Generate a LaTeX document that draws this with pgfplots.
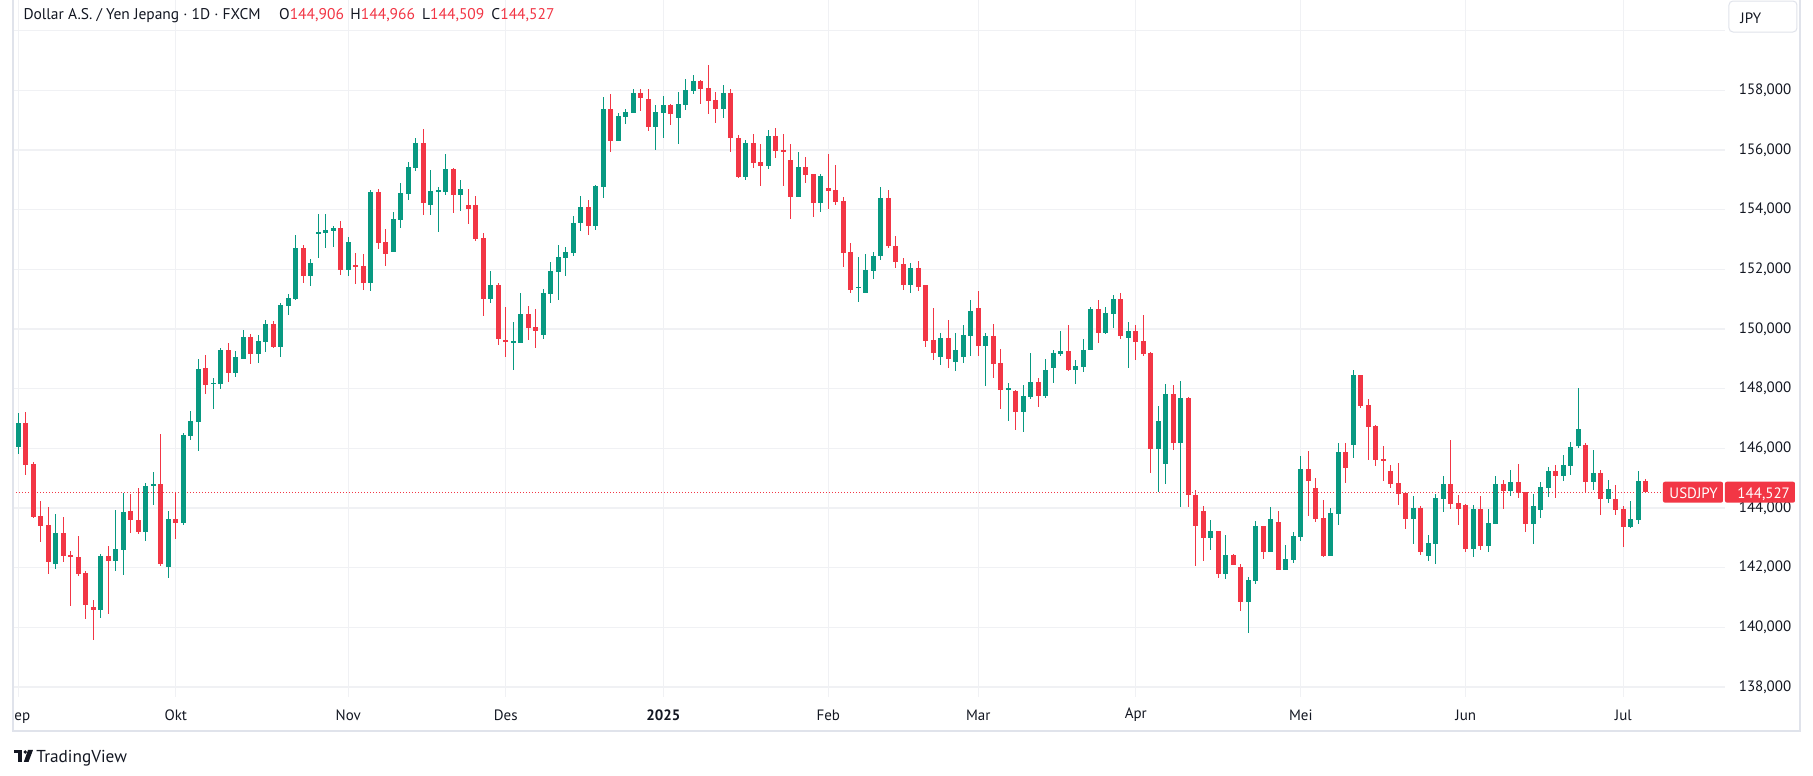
\documentclass[border=0pt]{standalone}
\usepackage{pgfplots}
\pgfplotsset{compat=1.18}
\usepackage{pgfplotstable}
\usepackage{fontspec}
\setmainfont{PT Sans}
\definecolor{tvgreen}{HTML}{089981}
\definecolor{tvred}{HTML}{F23645}
\definecolor{tvtext}{HTML}{131722}
\definecolor{tvgrid}{HTML}{F0F1F4}
\definecolor{tvborder}{HTML}{E0E3EB}
\newcommand\pp[2]{({(#1)*0.4pt},{(776-(#2))*0.4pt})}

\pgfplotstableread{
n o h l c
1 146.06 147.17 145.80 146.84
6 142.13 143.80 141.97 143.15
12 140.59 142.47 140.32 142.40
14 142.23 143.93 141.90 142.63
15 142.60 144.50 141.77 143.87
18 143.21 144.84 142.90 144.74
19 144.72 145.21 144.11 144.81
21 142.03 143.90 141.66 143.63
23 143.51 146.51 143.43 146.45
24 146.42 147.25 146.29 146.92
25 146.89 148.99 145.92 148.66
27 148.16 148.36 147.33 148.19
28 148.17 149.36 148.00 149.30
30 148.54 149.26 148.40 149.05
31 149.01 149.97 149.01 149.73
33 149.17 149.80 148.87 149.60
34 149.58 150.30 149.24 150.17
36 149.41 150.87 149.07 150.80
37 150.78 151.18 150.48 151.04
38 151.02 153.15 150.98 152.71
40 151.79 152.35 151.45 152.21
41 153.20 153.85 152.39 153.25
42 153.23 153.85 152.73 153.32
43 153.30 153.45 152.76 153.39
45 151.99 153.08 151.79 152.92
48 151.55 154.66 151.28 154.59
51 152.59 153.92 152.59 153.69
52 153.67 154.89 153.40 154.56
53 154.54 155.60 154.33 155.43
54 155.41 156.40 155.31 156.23
56 154.17 155.33 153.83 154.63
57 154.62 154.76 153.26 154.66
58 154.60 155.87 154.50 155.36
60 154.50 154.99 153.97 154.69
64 151.02 151.94 150.88 151.46
67 149.56 150.23 148.63 149.60
68 149.54 151.20 149.54 150.52
71 149.81 151.34 149.67 151.20
72 151.18 152.24 150.88 151.94
73 151.92 152.81 150.98 152.41
74 152.39 152.75 151.79 152.58
75 152.56 153.79 152.46 153.55
76 153.55 154.46 153.29 154.09
78 153.46 154.82 153.33 154.79
79 154.77 157.77 154.40 157.37
81 156.31 157.24 156.31 157.14
82 157.10 157.37 156.88 157.27
83 157.24 158.04 157.24 157.91
86 156.77 157.51 155.99 157.27
87 157.24 157.81 156.40 157.51
89 157.07 157.94 156.20 157.54
90 157.51 158.38 157.34 158.01
91 157.98 158.51 157.88 158.31
95 157.39 158.18 157.06 157.92
98 155.08 156.34 154.98 156.24
101 155.45 156.68 155.35 156.48
105 154.44 155.94 154.41 155.44
108 154.24 155.21 153.91 155.13
113 151.38 152.42 150.92 151.41
114 151.22 152.52 151.22 151.98
115 151.96 152.59 151.66 152.45
116 152.43 154.77 152.33 154.40
120 151.46 152.22 151.22 152.05
124 149.05 149.88 148.80 149.70
126 148.90 149.88 148.60 149.30
127 149.05 150.15 148.85 149.80
128 149.77 150.97 149.10 150.60
130 149.44 149.85 148.10 149.76
133 147.96 148.19 146.92 148.02
135 147.22 148.12 146.55 147.75
136 147.73 149.19 147.66 148.22
138 147.76 148.99 147.69 148.62
139 148.69 149.29 148.19 149.19
140 149.16 149.93 149.09 149.26
142 148.62 148.96 148.15 148.75
143 148.72 149.66 148.55 149.29
144 149.29 150.73 149.29 150.67
146 149.86 150.73 149.83 150.53
147 150.50 151.13 150.03 151.00
149 149.70 150.23 148.70 149.93
153 145.98 147.43 144.53 146.91
154 145.48 148.15 144.81 147.82
156 146.19 148.25 144.02 147.68
160 143.00 143.59 142.60 143.22
162 141.79 143.09 141.63 142.42
165 140.86 141.68 139.80 141.58
166 141.56 143.56 141.45 143.39
168 142.52 144.03 142.52 143.63
170 141.93 142.76 141.93 142.29
171 142.25 143.19 142.15 143.06
172 143.02 145.74 142.89 145.30
176 142.39 144.00 142.39 143.83
177 143.80 146.18 143.43 145.87
179 146.11 148.62 145.67 148.45
187 143.63 144.40 142.79 144.00
189 142.39 143.09 142.22 142.82
190 142.79 144.47 142.12 144.33
191 144.30 145.07 143.86 144.80
195 142.62 144.10 142.35 143.96
197 142.72 143.96 142.52 143.49
198 143.46 145.07 143.46 144.80
200 144.57 145.27 144.40 144.87
203 143.46 144.47 142.79 144.06
204 143.94 144.87 143.68 144.70
205 144.68 145.37 144.37 145.24
207 145.07 145.78 144.90 145.44
208 145.41 146.21 145.11 146.04
209 146.08 148.02 146.01 146.65
211 144.87 145.94 144.60 145.17
213 144.31 144.94 144.18 144.64
216 143.37 144.23 143.34 143.63
217 143.61 145.25 143.47 144.90
}\upt

\pgfplotstableread{
n o h l c
2 146.84 147.22 145.12 145.45
3 145.47 145.54 143.68 143.71
4 143.73 144.23 142.87 143.41
5 143.43 144.03 141.80 142.20
7 143.15 143.70 142.20 142.40
8 142.42 142.56 140.73 142.34
9 142.36 143.06 141.73 141.80
10 141.82 141.89 140.29 140.76
11 140.68 140.92 139.59 140.59
13 142.40 142.74 140.46 142.23
16 143.90 144.47 143.16 143.58
17 143.60 144.67 143.14 143.21
20 144.81 146.48 142.07 142.13
22 143.63 144.54 142.97 143.51
26 148.69 149.13 147.83 148.13
29 149.30 149.53 148.23 148.54
32 149.73 149.83 148.84 149.17
35 150.17 150.27 149.37 149.41
39 152.71 152.81 151.55 151.79
44 153.39 153.62 151.82 151.99
46 152.14 152.55 151.52 152.09
47 152.11 152.51 151.32 151.55
49 154.59 154.69 152.69 152.89
50 152.92 153.35 152.12 152.52
55 156.23 156.70 153.83 154.23
59 155.36 155.40 153.90 154.50
61 154.16 154.69 153.53 154.03
62 154.15 154.46 152.96 153.03
63 153.05 153.23 150.44 151.02
65 151.46 151.53 149.47 149.67
66 149.62 150.74 149.07 149.57
69 150.52 150.77 149.64 150.05
70 150.07 150.67 149.37 149.95
77 154.09 154.32 153.16 153.46
80 157.37 157.87 155.94 156.31
84 157.91 158.04 157.31 157.74
85 157.71 158.04 156.63 156.77
88 157.51 157.54 156.84 157.20
92 158.31 158.34 157.54 158.04
93 158.08 158.85 157.20 157.64
94 157.68 157.95 156.89 157.39
96 157.92 158.05 155.92 156.39
97 156.41 156.51 155.05 155.08
99 156.24 156.54 155.41 155.58
100 155.60 156.21 154.78 155.45
102 156.48 156.74 155.72 155.98
103 156.01 156.54 154.81 155.92
104 155.67 156.21 153.70 154.44
106 155.44 155.77 154.91 155.15
107 155.18 155.21 153.77 154.24
109 154.73 155.87 154.01 154.64
110 154.66 155.50 154.17 154.27
111 154.30 154.43 152.09 152.56
112 152.59 152.89 151.22 151.32
117 154.40 154.67 152.70 152.77
118 152.79 153.12 152.03 152.26
119 152.18 152.39 151.32 151.46
121 152.05 152.29 151.26 151.42
122 151.46 151.48 149.41 149.61
123 149.64 150.71 148.95 149.21
125 149.70 150.31 148.70 149.00
129 150.70 151.27 149.10 149.44
131 149.76 150.16 148.36 148.83
132 148.86 149.32 147.32 147.96
134 147.92 147.94 146.62 147.22
137 148.22 148.35 147.39 147.76
141 149.26 150.13 148.60 148.62
145 150.67 150.96 149.54 149.87
148 151.00 151.20 149.67 149.77
150 149.93 150.13 148.97 149.57
151 149.59 150.46 149.10 149.17
152 149.19 149.22 145.18 145.98
155 147.82 148.12 145.95 146.19
157 147.68 147.72 144.02 144.42
158 144.43 144.60 142.06 143.40
159 143.90 144.06 142.23 143.00
161 143.22 143.24 141.66 141.79
163 142.42 142.45 142.08 142.10
164 142.02 142.12 140.55 140.85
167 143.39 143.41 142.29 142.52
169 143.53 143.90 141.91 141.93
173 145.30 145.91 143.73 144.90
174 144.67 145.00 143.53 143.63
175 143.66 144.27 142.35 142.39
178 145.87 146.18 144.83 145.34
180 148.45 148.47 147.35 147.42
181 147.45 147.65 145.61 146.72
182 146.75 146.77 145.40 145.61
183 145.64 146.07 144.90 145.61
184 145.24 145.44 144.67 144.80
185 144.83 145.50 144.10 144.47
186 144.50 144.52 143.29 143.63
188 144.00 144.06 142.42 142.52
192 144.80 146.28 143.96 144.13
193 144.16 144.43 143.43 143.98
194 144.10 144.12 142.52 142.62
196 143.96 144.40 142.59 142.72
199 144.80 144.94 143.96 144.57
201 144.87 145.47 144.33 144.50
202 144.53 144.55 143.19 143.46
206 145.24 145.44 144.35 145.07
210 146.11 146.18 144.54 144.87
212 145.17 145.27 143.78 144.31
214 144.30 144.77 143.78 143.94
215 143.97 144.07 142.70 143.37
218 144.906 144.966 144.509 144.527
}\downt

\begin{document}
\begin{tikzpicture}
\fill[white] (0,0) rectangle (725.2pt,310.4pt);
\begin{axis}[
  at={(5.2pt,31.6pt)}, anchor=south west,
  width=684.8pt, height=278.8pt, scale only axis,
  xmin=0.293, xmax=228.56, ymin=137.663, ymax=161.029,
  axis line style={draw=none},
  major tick length=0pt,
  xtick={1,22,45,66,87,109,129,150,172,194,215},
  xticklabels={,Okt,Nov,Des,\textbf{2025},Feb,Mar,Apr,Mei,Jun,Jul},
  xticklabel style={anchor=center, yshift=-7.2pt, font=\fontsize{6pt}{7pt}\selectfont, text=tvtext},
  ytick={138,140,...,158},
  extra y ticks={160}, extra y tick labels={},
  extra y tick style={grid=major},
  yticklabel pos=right,
  /pgf/number format/assume math mode=true,
  yticklabel={\pgfmathprintnumber[fixed,fixed zerofill,precision=3,use comma]{\tick}},
  yticklabel style={anchor=west, xshift=2pt, font=\fontsize{6pt}{7pt}\selectfont, text=tvtext},
  grid=major, major grid style={draw=tvgrid, line width=0.45pt},
  clip=false,
  every axis plot/.append style={mark=none},
]
\addplot[tvred, line width=0.4pt, dash pattern=on 0.45pt off 0.75pt] coordinates {(0.3,144.527) (220.3,144.527)};
% wicks
\addplot[draw=none, mark=none, error bars/.cd, y dir=both, y explicit, error mark=none,
  error bar style={line width=0.45pt, draw=tvgreen}]
  table[x=n, y expr={(\thisrow{h}+\thisrow{l})/2}, y error expr={(\thisrow{h}-\thisrow{l})/2}] {\upt};
\addplot[draw=none, mark=none, error bars/.cd, y dir=both, y explicit, error mark=none,
  error bar style={line width=0.45pt, draw=tvred}]
  table[x=n, y expr={(\thisrow{h}+\thisrow{l})/2}, y error expr={(\thisrow{h}-\thisrow{l})/2}] {\downt};
% bodies
\addplot[draw=none, mark=none, error bars/.cd, y dir=both, y explicit, error mark=none,
  error bar style={line width=2pt, draw=tvgreen}]
  table[x=n, y expr={(\thisrow{o}+\thisrow{c})/2}, y error expr={abs(\thisrow{c}-\thisrow{o})/2}] {\upt};
\addplot[draw=none, mark=none, error bars/.cd, y dir=both, y explicit, error mark=none,
  error bar style={line width=2pt, draw=tvred}]
  table[x=n, y expr={(\thisrow{o}+\thisrow{c})/2}, y error expr={abs(\thisrow{c}-\thisrow{o})/2}] {\downt};
\end{axis}
% frame
\draw[tvborder, line width=0.6pt] \pp{13}{0} -- \pp{13}{731} -- \pp{1800}{731} -- \pp{1800}{0};
% first month label (clipped Sep)
\node[anchor=base west, inner sep=0, font=\fontsize{6pt}{7pt}\selectfont, text=tvtext] at \pp{14}{720} {ep};
% header
\node[anchor=base west, inner sep=0, font=\fontsize{6.2pt}{7.5pt}\selectfont, text=tvtext] at \pp{23}{20} {Dollar A.S. / Yen Jepang · 1D · FXCM};
\node[anchor=base west, inner sep=0, font=\fontsize{6.2pt}{7.5pt}\selectfont] at \pp{278.7}{20} {\textcolor{tvtext}{O}\textcolor{tvred}{144,906}};
\node[anchor=base west, inner sep=0, font=\fontsize{6.2pt}{7.5pt}\selectfont] at \pp{350}{20} {\textcolor{tvtext}{H}\textcolor{tvred}{144,966}};
\node[anchor=base west, inner sep=0, font=\fontsize{6.2pt}{7.5pt}\selectfont] at \pp{421.7}{20} {\textcolor{tvtext}{L}\textcolor{tvred}{144,509}};
\node[anchor=base west, inner sep=0, font=\fontsize{6.2pt}{7.5pt}\selectfont] at \pp{491}{20} {\textcolor{tvtext}{C}\textcolor{tvred}{144,527}};
% JPY box
\filldraw[fill=white, draw=tvborder, line width=0.4pt, rounded corners=1.6pt] \pp{1729}{1} rectangle \pp{1797}{32};
\node[anchor=base west, inner sep=0, font=\fontsize{6pt}{7pt}\selectfont, text=tvtext] at \pp{1740}{23} {JPY};
% price tags
\fill[tvred, rounded corners=0.8pt] \pp{1663}{481.7} rectangle \pp{1723}{502.7};
\fill[tvred, rounded corners=0.8pt] \pp{1725}{481.7} rectangle \pp{1795}{502.7};
\node[anchor=base west, inner sep=0, font=\fontsize{6pt}{7pt}\selectfont, text=white] at \pp{1669}{498.3} {USDJPY};
\node[anchor=base west, inner sep=0, font=\fontsize{6pt}{7pt}\selectfont, text=white] at \pp{1737}{498.3} {144,527};
% TradingView logo
\fill[tvtext] \pp{14}{750} rectangle \pp{22.5}{753.5};
\fill[tvtext] \pp{18.5}{750} rectangle \pp{22.5}{762};
\fill[tvtext] \pp{25.3}{752} circle (0.75pt);
\fill[tvtext] \pp{28}{750} -- \pp{33}{750} -- \pp{28.5}{762} -- \pp{23.8}{762} -- cycle;
\node[anchor=base west, inner sep=0, font=\fontsize{6.9pt}{8pt}\selectfont, text=tvtext] at \pp{36}{762} {TradingView};
\pgfresetboundingbox
\useasboundingbox (0,0) rectangle (725.2pt,310.4pt);
\end{tikzpicture}
\end{document}
